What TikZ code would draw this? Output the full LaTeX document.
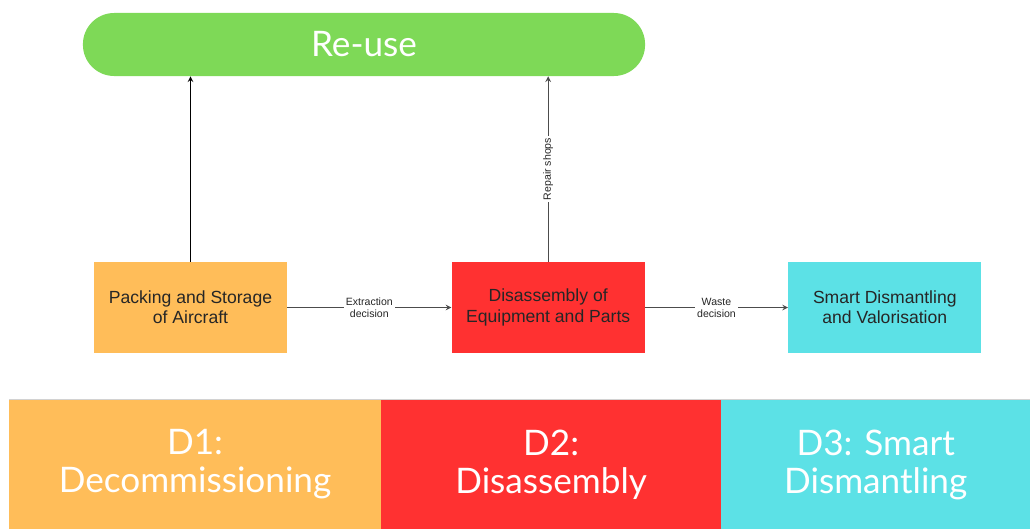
\documentclass[tikz,border=0pt]{standalone}
\usepackage{xcolor}
\usepackage{fontspec}
\usepackage{tikz}
\usetikzlibrary{shapes.geometric, arrows, positioning}
\newfontfamily\boxfont{Liberation Sans}
\newfontfamily\bandfont{Lato}
\definecolor{packorange}{HTML}{FFBD59}
\definecolor{disred}{HTML}{FF3131}
\definecolor{smartcyan}{HTML}{5CE1E6}
\definecolor{reusegreen}{HTML}{7ED957}
\tikzstyle{arrow} = [line width=0.8pt,->,>=stealth, draw=black!70]
\tikzstyle{stage} = [rectangle, minimum width=4.825cm, minimum height=2.275cm, align=center, text=black!85, font=\boxfont\fontsize{12.5}{14.5}\selectfont]
\tikzstyle{pill} = [rectangle, rounded corners=0.78cm, minimum width=14.05cm, minimum height=1.575cm, fill=reusegreen, text=white, font=\bandfont\fontsize{25}{27}\selectfont]
\tikzstyle{band} = [rectangle, minimum height=3.225cm, outer sep=0pt, align=center, text=white, font=\bandfont\fontsize{25}{27}\selectfont]
\tikzstyle{edgelabel} = [fill=white, inner sep=1.5pt, align=center, text=black!85, font=\boxfont\fontsize{7.5}{8.5}\selectfont]

\begin{document}
\begin{tikzpicture}[x=0.025cm, y=-0.025cm]
    \useasboundingbox (0,0) rectangle (1030,529);

    % Etapas del proceso
    \node (pack) [stage, fill=packorange] at (190.5,307.5) {Packing and Storage\\of Aircraft};
    \node (disas) [stage, fill=disred, right=4.1cm of pack] {Disassembly of\\Equipment and Parts};
    \node (smart) [stage, fill=smartcyan, right=3.575cm of disas] {Smart Dismantling\\and Valorisation};

    % Reutilizacion
    \node (reuse) [pill] at (364,44.5) {Re-use};

    % Flechas
    \draw [arrow, draw=black] (pack.north) -- (pack.north |- reuse.south);
    \draw [arrow] (disas.north) -- node [edgelabel, rotate=90] {Repair shops} (disas.north |- reuse.south);
    \draw [arrow] (pack) -- node [edgelabel] {Extraction\\decision} (disas);
    \draw [arrow] (disas) -- node [edgelabel] {Waste\\decision} (smart);

    % Fases D1-D3
    \node (d1) [band, fill=packorange, minimum width=9.3cm, anchor=north west] at (9,400) {D1:\\Decommissioning};
    \node (d2) [band, fill=disred, minimum width=8.5cm, right=0cm of d1] {D2:\\Disassembly};
    \node (d3) [band, fill=smartcyan, minimum width=7.725cm, right=0cm of d2] {D3: Smart\\Dismantling};
    \draw [gray!35, line width=0.8pt] ([yshift=0.6pt]d1.north west) -- ([yshift=0.6pt]d3.north east);
\end{tikzpicture}
\end{document}
